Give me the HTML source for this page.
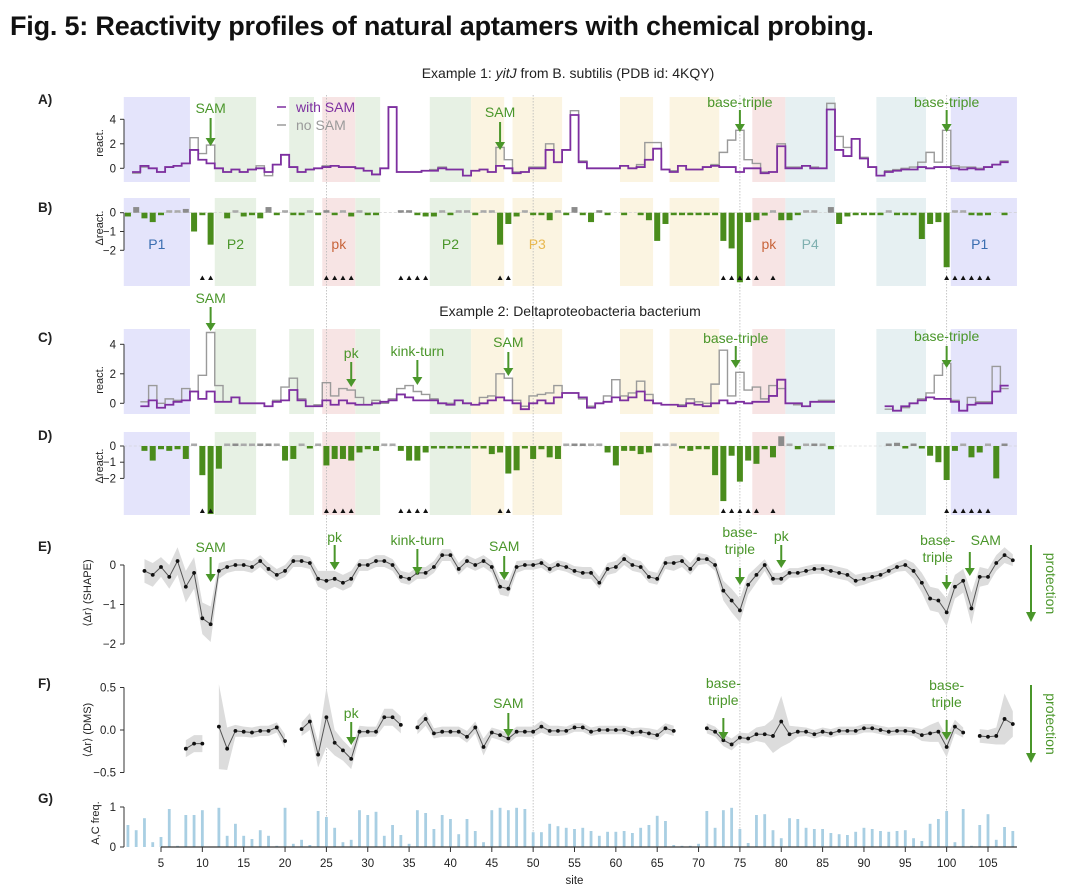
<!DOCTYPE html>
<html><head><meta charset="utf-8">
<style>
html,body{margin:0;padding:0;background:#fff;}
body{width:1080px;height:885px;overflow:hidden;font-family:"Liberation Sans",sans-serif;}
#title{position:absolute;left:10px;top:11px;font-size:27px;font-weight:bold;color:#111;letter-spacing:-0.2px;font-family:"Liberation Sans",sans-serif;white-space:nowrap;}
svg{position:absolute;left:0;top:0;}
</style></head>
<body>
<div id="title">Fig. 5: Reactivity profiles of natural aptamers with chemical probing.</div>
<svg id="fig" width="1080" height="885"></svg>
<script>
// ---------- data (sites 1..108) ----------
const sites = Array.from({length:108},(_,i)=>i+1);
const aWith = [null,-0.3,0.2,0,-0.3,0.1,0.2,0.4,1.5,0.7,
 0.4,0,-0.3,-0.1,-0.3,-0.1,0,-0.3,0.3,1.1,
 0.1,-0.3,-0.1,0,0.1,0.2,0.1,0.1,0,-0.2,
 -0.5,0,5.0,-0.3,-0.3,-0.3,-0.2,-0.2,0,-0.1,
 -0.1,-0.6,-0.2,-0.1,-0.3,0.2,0,-0.4,-0.3,0,
 0,1.5,0.5,1.5,4.35,0.5,0,0,0,0,
 0.2,0,0.1,0.7,1.6,-0.1,-0.3,0.2,-0.1,-0.1,
 0.1,0.2,0.1,0.1,-0.3,0,0,-0.4,-0.3,1.8,
 0,0,0.2,0,0,4.8,1.5,1.0,2.4,0.8,
 0.1,-0.6,-0.3,-0.2,-0.1,-0.1,0.1,0,0.1,0.1,
 0,-0.1,0,-0.1,0.1,0.3,0.5,null];
const aNo = [null,-0.4,0.1,0,-0.3,0.1,0.2,0.4,2.5,1.2,
 1.9,0,-0.3,-0.1,-0.3,-0.1,0.2,-0.6,0.3,1.1,
 0.1,-0.3,-0.1,0,0.2,0.2,0.1,0.1,0,-0.2,
 -0.5,0,5.0,-0.3,-0.3,-0.3,-0.2,-0.1,0.1,-0.1,
 -0.1,-0.6,-0.2,-0.1,-0.3,1.7,0.7,-0.3,-0.3,0.1,
 0.1,2.0,0.5,1.5,4.7,0.6,0,0,0,0,
 0.2,0,0.3,2.1,2.1,-0.1,-0.2,0.2,-0.1,-0.1,
 0.1,0.3,1.3,2.3,3.1,0.7,0.4,-0.3,-0.3,2.0,
 0.1,0.1,0.2,0.1,0,5.3,2.6,1.7,2.4,0.9,
 0.1,-0.6,-0.2,-0.1,0,0.1,0.5,1.3,0.5,3.1,
 0.2,0.1,0.1,0,0.1,0.3,0.6,null];
const bDelta = [-0.2,0.3,-0.3,-0.5,-0.1,0.02,0.02,0.2,-1.0,-0.1,
 -1.7,null,-0.3,0.02,-0.2,-0.1,-0.3,0.3,-0.1,0.02,
 -0.1,-0.1,0.02,-0.1,0.05,-0.1,0.02,-0.2,0.02,-0.1,
 -0.1,null,null,0.05,0.05,-0.1,-0.2,-0.2,0.02,-0.1,
 0.02,0.02,-0.1,0.02,0.02,-1.7,-0.6,-0.2,0.02,-0.1,
 -0.1,-0.4,0.02,-0.1,0.3,-0.1,-0.5,0.05,-0.05,null,
 -0.05,null,-0.1,-0.4,-1.5,-0.6,-0.1,-0.1,-0.02,-0.02,
 -0.1,-0.1,-1.5,-1.9,-3.7,-0.5,-0.4,-0.15,0.02,-0.4,
 -0.4,-0.1,0.02,0.02,null,0.3,-0.6,-0.2,-0.1,-0.1,
 -0.1,-0.1,0.02,-0.1,-0.1,-0.1,-1.4,-0.6,-0.5,-2.9,
 0.02,0.02,-0.1,-0.15,-0.05,null,-0.1,null];
const cWith = [null,null,-0.2,0.2,-0.3,-0.1,0.1,0.2,0.8,0.3,
 0.8,0.1,0.1,0.4,0,0,0,-0.2,0.1,0.2,
 0.9,0.2,-0.2,-0.2,0.2,-0.1,0.2,0,-0.1,-0.1,
 0,0.1,0.2,0.6,0.4,0.2,0.2,0.2,0,-0.1,
 0.2,0,-0.1,0,0.2,0.4,0.2,0,-0.4,0,
 0.2,0,0.4,0.7,0.7,0.4,-0.3,0,0.1,0.4,
 0.2,0.4,0.8,0.2,0,-0.1,-0.1,-0.2,0,-0.1,
 -0.2,0,0.2,0,0.1,0,0.1,0.1,0.5,1.6,
 0,0,-0.2,0.1,0.1,0.1,null,null,null,null,
 null,null,-0.2,-0.5,-0.2,0,0.2,0.4,0.3,0.3,
 0.1,-0.5,-0.1,0,0,0.8,1.2,null];
const cNo = [null,null,0.1,1.2,0,0.3,0.2,1.0,0.8,1.9,
 4.8,1.2,0.1,0.4,0,0,0,-0.2,0.2,1.1,
 1.7,0.3,-0.2,-0.1,1.4,0.5,1.0,0.9,0.4,-0.1,
 0.2,0,0.3,1.0,1.2,0.8,0.6,0.3,0,0,
 0.2,0,-0.1,0.4,0.5,2.0,1.7,0.2,-0.2,0.5,
 0.6,0.7,1.2,0.7,0.7,0.3,-0.2,0,0.5,1.6,
 0.5,0.7,1.5,0.6,0,-0.1,-0.1,-0.1,0.3,0.1,
 0,1.3,3.6,0.5,2.1,0.9,1.1,0.3,1.2,1.0,
 0,-0.1,-0.2,0.1,0.2,0.2,null,null,null,null,
 null,null,-0.4,-0.5,-0.3,0,0.3,0.7,1.9,2.7,
 0.2,-0.5,0.4,0.1,0.1,2.5,1.0,null];
const dDelta = [null,null,-0.3,-0.9,-0.2,-0.3,-0.2,-0.8,0.02,-1.8,
 -4.2,-1.4,0.02,0.05,0.02,0.02,0.15,0.05,0.02,-0.9,
 -0.8,0.02,-0.1,0.02,-1.2,-0.8,-0.8,-0.9,-0.4,-0.2,
 -0.3,0.02,0.02,-0.3,-0.9,-0.9,-0.4,-0.1,-0.1,-0.05,
 -0.1,-0.1,-0.1,-0.1,-0.5,-0.4,-1.7,-1.5,-0.1,-0.8,
 -0.2,-0.7,-0.8,0.02,0.05,0.05,0.02,0.02,-0.4,-1.2,
 -0.3,-0.3,-0.5,-0.4,0.05,0.02,0.02,-0.05,-0.3,-0.2,
 -0.2,-1.8,-3.4,-0.6,-2.2,-0.9,-1.1,-0.2,-0.7,0.6,
 0.02,-0.2,0.02,0.05,0.02,-0.2,null,null,null,null,
 null,null,0.15,0.2,-0.1,0.05,-0.1,-0.6,-1.0,-2.1,
 -0.3,0.02,-0.7,-0.4,0.02,-2.0,0.1,null];
const eShape = [null,null,-0.15,-0.25,-0.05,-0.3,0.1,-0.55,-0.2,-1.35,
 -1.5,-0.15,-0.05,0,0,-0.05,0.1,-0.1,-0.25,-0.15,
 0.1,0.1,0.05,-0.35,-0.4,-0.35,-0.45,-0.35,0,0,
 0.1,0.1,0,-0.3,-0.35,-0.2,-0.2,-0.05,0.25,0.25,
 -0.1,0.1,0,0.1,-0.05,-0.55,-0.6,-0.05,0,0,
 0.05,-0.1,0,-0.05,-0.15,-0.2,-0.2,-0.45,-0.1,-0.05,
 0.15,0,-0.05,-0.3,-0.35,0.05,0.05,0.1,-0.1,0.15,
 0.15,0,-0.65,-0.9,-1.15,-0.5,-0.25,0,-0.35,-0.35,
 -0.2,-0.2,-0.15,-0.1,-0.1,-0.15,-0.2,-0.25,-0.4,-0.35,
 -0.3,-0.25,-0.15,-0.05,0,-0.15,-0.45,-0.85,-0.9,-1.2,
 -0.55,-0.4,-1.1,-0.3,-0.3,0.05,0.25,0.12];
const eErr = [0.2,0.2,0.3,0.3,0.25,0.3,0.35,0.4,0.4,0.4,
 0.45,0.2,0.15,0.15,0.15,0.15,0.15,0.15,0.15,0.15,
 0.15,0.15,0.15,0.2,0.25,0.2,0.2,0.2,0.15,0.15,
 0.15,0.15,0.15,0.15,0.15,0.15,0.15,0.15,0.15,0.15,
 0.15,0.15,0.15,0.15,0.15,0.2,0.2,0.15,0.12,0.12,
 0.12,0.12,0.12,0.12,0.12,0.15,0.15,0.15,0.15,0.15,
 0.15,0.15,0.15,0.15,0.15,0.15,0.2,0.15,0.15,0.15,
 0.12,0.15,0.25,0.3,0.3,0.25,0.2,0.15,0.15,0.15,
 0.12,0.12,0.12,0.12,0.12,0.15,0.15,0.15,0.15,0.15,
 0.12,0.12,0.12,0.12,0.15,0.2,0.25,0.3,0.3,0.35,
 0.3,0.3,0.4,0.25,0.2,0.2,0.2,0.15];
const fDms = [null,null,null,null,null,null,null,-0.22,-0.16,-0.16,
 null,0.04,-0.22,-0.01,-0.02,-0.03,-0.01,-0.01,0.03,-0.13,
 null,0.01,0.1,-0.29,0.15,-0.15,-0.24,-0.34,-0.02,-0.02,
 -0.02,0.15,0.15,0.06,null,0.03,0.13,-0.04,-0.02,-0.02,
 -0.02,-0.08,0.03,-0.2,-0.03,-0.06,-0.1,-0.02,-0.02,-0.02,
 0.04,-0.01,-0.01,-0.01,0.03,0.03,-0.02,0,0,0,
 0,-0.03,-0.02,-0.04,-0.06,0.02,-0.01,null,null,null,
 0.02,-0.02,-0.12,-0.17,-0.09,-0.1,-0.05,-0.05,-0.07,0.1,
 -0.05,-0.02,-0.02,-0.05,-0.02,-0.04,-0.01,-0.01,-0.01,0.02,
 0.02,0,-0.02,-0.01,-0.01,-0.02,-0.06,-0.04,-0.02,-0.2,
 0.04,-0.03,null,-0.07,-0.08,-0.07,0.13,0.07];
const fErr = [0,0,0,0,0,0,0,0.1,0.1,0.1,
 0,0.5,0.25,0.07,0.06,0.06,0.06,0.06,0.06,0.08,
 0,0.08,0.1,0.15,0.35,0.15,0.12,0.12,0.07,0.06,
 0.06,0.1,0.1,0.1,0,0.08,0.08,0.06,0.06,0.06,
 0.06,0.07,0.07,0.1,0.06,0.06,0.06,0.06,0.06,0.06,
 0.07,0.06,0.06,0.05,0.05,0.05,0.05,0.05,0.05,0.05,
 0.05,0.05,0.05,0.06,0.06,0.06,0.06,0,0,0,
 0.06,0.06,0.07,0.07,0.06,0.06,0.08,0.1,0.2,0.3,
 0.1,0.06,0.05,0.05,0.05,0.05,0.05,0.05,0.05,0.05,
 0.05,0.05,0.05,0.05,0.05,0.05,0.07,0.1,0.12,0.12,
 0.08,0.06,0,0.08,0.08,0.1,0.3,0.15];
const gFreq = [0.55,0.42,0.72,0.12,0.25,0.95,0.03,0.8,0.8,0.92,
 0,0.98,0.28,0.58,0.28,0.2,0.42,0.28,0.03,0.98,
 0.08,0.18,0.05,0.9,0.75,0.48,0.12,0.18,0.92,0.8,
 0.88,0.28,0.55,0.3,0.08,0.92,0.85,0.45,0.8,0.7,
 0.32,0.7,0.4,0.12,0.92,0.98,0.92,0.98,0.95,0.37,
 0.37,0.58,0.52,0.48,0.45,0.48,0.4,0.28,0.38,0.38,
 0.4,0.35,0.48,0.55,0.78,0.65,0.05,0.03,0.03,0.08,
 0.9,0.48,0.92,0.98,0.45,0.1,0.8,0.82,0.42,0.22,
 0.72,0.7,0.48,0.45,0.45,0.35,0.32,0.3,0.38,0.48,
 0.45,0.4,0.38,0.4,0.42,0.22,0.15,0.58,0.7,0.9,
 0.12,0.95,0.03,0.55,0.82,0.18,0.5,0.4];
const regionStart = [0.5,11.5,20.5,24.5,28.5,37.5,42.5,47.5,60.5,66.5,76.5,80.5,91.5,100.5];
const regionEnd   = [8.5,16.5,23.5,28.5,31.5,42.5,46.5,53.5,64.5,72.5,80.5,86.5,97.5,108.5];
const regionColor = ['#e4e4fb','#e7f1e4','#e7f1e4','#f7e4e4','#e7f1e4','#e7f1e4','#fbf4e1','#fbf4e1','#fbf4e1','#fbf4e1','#f7e4e4','#e6f0f2','#e6f0f2','#e4e4fb'];
const triSites = [10,11,25,26,27,28,34,35,36,37,46,47,73,74,75,76,77,79,100,101,102,103,104,105];
const xTicks = [5,10,15,20,25,30,35,40,45,50,55,60,65,70,75,80,85,90,95,100,105];
const guideSites = [25,50,75,100];

// ---------- scales ----------
const x = s => 161 + (s-5)*8.27;
const yA = v => 168.3 - v*12.25;
const yB = v => 212.7 - v*18.8;
const yC = v => 403.3 - v*14.75;
const yD = v => 446 - v*16.2;
const yE = v => 565 - v*39.5;
const yF = v => 730 - v*85;
const yG = v => 847 - v*40;

const NS='http://www.w3.org/2000/svg';
const svg=document.getElementById('fig');
function mk(tag,attrs,parent){const e=document.createElementNS(NS,tag);for(const k in attrs)e.setAttribute(k,attrs[k]);(parent||svg).appendChild(e);return e;}
function txt(str,attrs,parent){const e=mk('text',attrs,parent);e.textContent=str;return e;}
const GREEN='#4a962a';

function regions(top,bot,name){
  const g=mk('g',{});
  
  
  regionStart.forEach((s,i)=>{
    const r=mk('rect',{x:x(s),y:top,width:x(regionEnd[i])-x(s),height:bot-top,fill:regionColor[i]},g);
    
    
  });
}
regions(97,182,'regions-a');regions(198,286,'regions-b');regions(329,414,'regions-c');regions(432,515,'regions-d');

guideSites.forEach(s=>{
  const l=mk('line',{x1:x(s),x2:x(s),y1:95,y2:850,stroke:'#b8b8b8','stroke-width':0.8,'stroke-dasharray':'1.5 1.5'});
  
  
});

function yaxis(scale,ticks,labels,name){
  const g=mk('g',{});
  
  
  mk('line',{x1:124,x2:124,y1:scale(ticks[0]),y2:scale(ticks[ticks.length-1]),stroke:'#333','stroke-width':1},g);
  ticks.forEach((t,i)=>{
    mk('line',{x1:120,x2:124,y1:scale(t),y2:scale(t),stroke:'#333','stroke-width':1},g);
    txt(labels[i],{x:116,y:scale(t)+4,'text-anchor':'end','font-size':11.5,fill:'#222'},g);
  });
}
yaxis(yA,[4,2,0],['4','2','0'],'y-axis-a');
yaxis(yB,[0,-1,-2],['0','−1','−2'],'y-axis-b');
yaxis(yC,[4,2,0],['4','2','0'],'y-axis-c');
yaxis(yD,[0,-1,-2],['0','−1','−2'],'y-axis-d');
yaxis(yE,[0,-1,-2],['0','−1','−2'],'y-axis-e');
yaxis(yF,[0.5,0,-0.5],['0.5','0.0','−0.5'],'y-axis-f');
yaxis(yG,[1,0],['1','0'],'y-axis-g');

function stepPath(vals,scale){
  let d='',pen=false;
  vals.forEach((v,i)=>{
    const s=sites[i];
    if(v===null){pen=false;return;}
    const y=scale(v);
    d+=(pen?'L':'M')+x(s-0.5)+' '+y+'L'+x(s+0.5)+' '+y;
    pen=true;
  });
  return d;
}
function steps(vals,scale,color,w,name){
  const p=mk('path',{d:stepPath(vals,scale),fill:'none',stroke:color,'stroke-width':w});
  
  
}
steps(aNo,yA,'#9a9a9a',1.4,'series-a-no-sam');
steps(aWith,yA,'#7d2fa0',1.8,'series-a-with-sam');
steps(cNo,yC,'#9a9a9a',1.4,'series-c-no-sam');
steps(cWith,yC,'#7d2fa0',1.8,'series-c-with-sam');

function bars(vals,scale,name){
  const g=mk('g',{});
  
  
  mk('line',{x1:x(0.5),x2:x(108.5),y1:scale(0),y2:scale(0),stroke:'#ccc','stroke-width':0.6,'stroke-dasharray':'3 2'},g);
  vals.forEach((v,i)=>{
    if(v===null)return;
    const y0=scale(0),y1=scale(v);
    let top=Math.min(y0,y1),h=Math.abs(y1-y0);
    if(h<2.5){h=2.5; if(v>=0) top=y0-2.5; else top=y0;}
    const r=mk('rect',{x:x(sites[i])-3,y:top,width:6,height:h,fill:v>0.03?'#8c8c8c':(v>0?'#aaaaaa':'#4a8c1c')},g);
    
    
  });
}
bars(bDelta,yB,'bars-b');
bars(dDelta,yD,'bars-d');

function tris(y,name){
  const g=mk('g',{});
  
  
  triSites.forEach(s=>{
    const cx=x(s);
    const t=mk('path',{d:`M${cx-2.5} ${y+2}L${cx+2.5} ${y+2}L${cx} ${y-2.5}Z`,fill:'#111'},g);
    
    
  });
}
tris(278,'markers-b');tris(511,'markers-d');

function ribbon(vals,errs,scale,name){
  const g=mk('g',{});
  
  
  let segs=[],cur=[];
  vals.forEach((v,i)=>{if(v===null){if(cur.length)segs.push(cur);cur=[];}else cur.push(i);});
  if(cur.length)segs.push(cur);
  segs.forEach(seg=>{
    let up='',dn='';
    seg.forEach((i,k)=>{up+=(k?'L':'M')+x(sites[i])+' '+scale(vals[i]+errs[i]);});
    seg.slice().reverse().forEach(i=>{dn+='L'+x(sites[i])+' '+scale(vals[i]-errs[i]);});
    mk('path',{d:up+dn+'Z',fill:'#dcdcdc'},g);
    let ln='';
    seg.forEach((i,k)=>{ln+=(k?'L':'M')+x(sites[i])+' '+scale(vals[i]);});
    mk('path',{d:ln,fill:'none',stroke:'#555','stroke-width':1},g);
    seg.forEach(i=>{
      const c=mk('circle',{cx:x(sites[i]),cy:scale(vals[i]),r:1.9,fill:'#111'},g);
      
      
    });
  });
}
ribbon(eShape,eErr,yE,'series-e-shape');
ribbon(fDms,fErr,yF,'series-f-dms');

const gg=mk('g',{});


gFreq.forEach((v,i)=>{
  const r=mk('rect',{x:x(sites[i])-1.4,y:yG(v),width:2.8,height:yG(0)-yG(v),fill:'#a9cfe3'},gg);
  
  
});

const xa=mk('g',{});


mk('line',{x1:x(5),x2:x(108.5),y1:847,y2:847,stroke:'#333','stroke-width':1.2},xa);
xTicks.forEach(t=>{
  mk('line',{x1:x(t),x2:x(t),y1:847,y2:852,stroke:'#333','stroke-width':1},xa);
  txt(String(t),{x:x(t),y:867,'text-anchor':'middle','font-size':11.5,fill:'#222'},xa);
});
const xt=txt('site',{x:x(55),y:884,'text-anchor':'middle','font-size':11.5,fill:'#222'});



[['A)',104],['B)',212],['C)',342],['D)',440],['E)',551],['F)',688],['G)',803]].forEach(p=>{
  const t=txt(p[0],{x:38,y:p[1],'font-size':13.5,'font-weight':'bold',fill:'#222'});
  
  
});
[['react.',103,143],['Δreact.',103,228],['react.',103,380],['Δreact.',103,466],['⟨Δr⟩ (SHAPE)',91,593],['⟨Δr⟩ (DMS)',91,730],['A,C freq.',99,823]].forEach(p=>{
  const t=txt(p[0],{x:p[1],y:p[2],'font-size':11,'text-anchor':'middle',fill:'#222',transform:`rotate(-90 ${p[1]} ${p[2]})`});
  
  
});

const h1=mk('text',{x:568,y:78,'text-anchor':'middle','font-size':14,fill:'#222'});


h1.innerHTML='Example 1: <tspan font-style="italic">yitJ</tspan> from B. subtilis (PDB id: 4KQY)';
const h2=txt('Example 2: Deltaproteobacteria bacterium',{x:570,y:316,'text-anchor':'middle','font-size':14,fill:'#222'});



const lg=mk('g',{});


mk('line',{x1:277,x2:286,y1:107,y2:107,stroke:'#7d2fa0','stroke-width':1.5},lg);
txt('with SAM',{x:296,y:112,'font-size':14,fill:'#7d2fa0'},lg);
mk('line',{x1:277,x2:286,y1:125,y2:125,stroke:'#9a9a9a','stroke-width':1.5},lg);
txt('no SAM',{x:296,y:130,'font-size':14,fill:'#9a9a9a'},lg);

[['P1',4.5,'#3a6db0'],['P2',14,'#4a962a'],['pk',26.5,'#c8643a'],['P2',40,'#4a962a'],['P3',50.5,'#e8b850'],['pk',78.5,'#c8643a'],['P4',83.5,'#7fb0b0'],['P1',104,'#3a6db0']].forEach(p=>{
  const t=txt(p[0],{x:x(p[1]),y:249,'text-anchor':'middle','font-size':14,fill:p[2]});
  
  
});

function ann(lines,site,ty,ay1,ay2,tdx){
  const g=mk('g',{});
  
  
  const cx=x(site);
  lines.forEach((l,i)=>txt(l,{x:cx+(tdx||0),y:ty+i*17,'text-anchor':'middle','font-size':14,fill:GREEN},g));
  mk('line',{x1:cx,x2:cx,y1:ay1,y2:ay2-6,stroke:GREEN,'stroke-width':2},g);
  mk('path',{d:`M${cx-5} ${ay2-8}L${cx+5} ${ay2-8}L${cx} ${ay2}Z`,fill:GREEN},g);
}
ann(['SAM'],11,113,118,146);
ann(['SAM'],46,117,122,150);
ann(['base-triple'],75,107,110,132);
ann(['base-triple'],100,107,110,132);
ann(['SAM'],11,303,307,331);
ann(['pk'],28,358,362,387);
ann(['kink-turn'],36,356,360,385);
ann(['SAM'],47,347,352,376);
ann(['base-triple'],74.5,343,346,368);
ann(['base-triple'],100,341,346,368);
ann(['SAM'],11,552,557,582);
ann(['pk'],26,542,545,570);
ann(['kink-turn'],36,545,549,575);
ann(['SAM'],46.5,551,556,580);
ann(['base-','triple'],75,537,568,585);
ann(['pk'],80,541,545,568);
ann(['base-','triple'],100,545,575,590,-9);
ann(['SAM'],102.8,545,552,576,16);
ann(['pk'],28,718,722,745);
ann(['SAM'],47,708,713,737);
ann(['base-','triple'],73,688,718,740);
ann(['base-','triple'],100,690,720,740);

function prot(y1,y2,name){
  const g=mk('g',{});
  
  
  mk('line',{x1:1031,x2:1031,y1:y1,y2:y2-8,stroke:GREEN,'stroke-width':2},g);
  mk('path',{d:`M${1026} ${y2-10}L${1036} ${y2-10}L1031 ${y2}Z`,fill:GREEN},g);
  const cy=(y1+y2)/2;
  txt('protection',{x:1046,y:cy,'text-anchor':'middle','font-size':14,fill:GREEN,transform:`rotate(90 1046 ${cy})`},g);
}
prot(545,622,'protection-arrow-e');
prot(685,763,'protection-arrow-f');
</script>
</body></html>
